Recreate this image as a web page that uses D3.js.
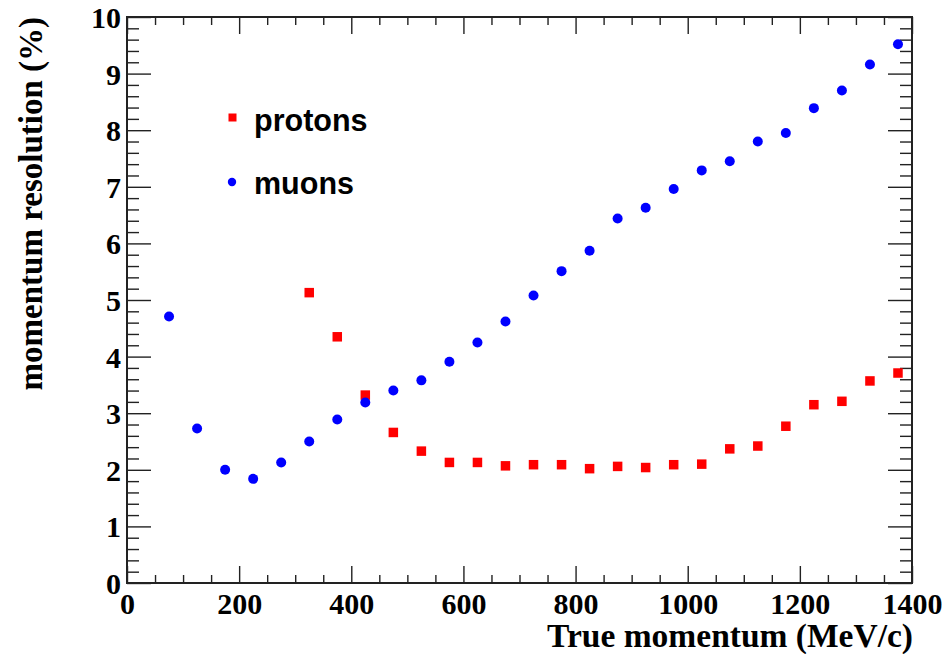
<!DOCTYPE html>
<html>
<head>
<meta charset="utf-8">
<script src="https://cdn.jsdelivr.net/npm/d3@7/dist/d3.min.js"></script>
<style>
  html, body { margin: 0; padding: 0; background: #fff; }
  svg { display: block; }
</style>
</head>
<body>
<svg id="chart" width="947" height="654"></svg>
<script>
// Momentum resolution vs true momentum, binned every 50 MeV/c
const muonMomentum = [75,125,175,225,275,325,375,425,475,525,575,625,675,725,775,825,875,925,975,1025,1075,1125,1175,1225,1275,1325,1375];
const muonResolution = [4.71,2.73,2.00,1.84,2.13,2.50,2.89,3.19,3.40,3.58,3.91,4.25,4.62,5.08,5.51,5.87,6.44,6.63,6.96,7.29,7.45,7.80,7.95,8.39,8.70,9.16,9.52];

const protonMomentum = [325,375,425,475,525,575,625,675,725,775,825,875,925,975,1025,1075,1125,1175,1225,1275,1325,1375];
const protonResolution = [5.13,4.35,3.32,2.66,2.33,2.13,2.13,2.07,2.09,2.09,2.02,2.06,2.04,2.09,2.10,2.37,2.42,2.77,3.15,3.21,3.57,3.71];

const xTicks = [0,200,400,600,800,1000,1200,1400];
const yTicks = [0,1,2,3,4,5,6,7,8,9,10];
const xTitle = "True momentum (MeV/c)";
const yTitle = "momentum resolution (%)";
const legendLabels = ["protons", "muons"];

const svg = d3.select("#chart");
const plotLeft = 127, plotRight = 912, plotTop = 17, plotBottom = 583;

const x = d3.scaleLinear().domain([0, 1400]).range([plotLeft, plotRight]);
const y = d3.scaleLinear().domain([0, 10]).range([plotBottom, plotTop]);

const axisColor = "#222";
const serif = "'Liberation Serif', 'Times New Roman', serif";
const sans = "'Liberation Sans', Arial, Helvetica, sans-serif";

// minor tick positions
const xMinor = d3.range(0, 1400 + 1, 50).filter(v => v % 200 !== 0);
const yMinor = d3.range(0, 10.001, 0.2).map(v => +v.toFixed(1)).filter(v => Math.abs(v - Math.round(v)) > 1e-6);

function styleAxis(g) {
  g.select(".domain").remove();
  g.selectAll(".tick line").attr("stroke", axisColor).attr("stroke-width", 1.4);
}

// bottom axis (major + minor, ticks pointing inward)
svg.append("g").attr("transform", `translate(0,${plotBottom})`)
  .call(d3.axisBottom(x).tickValues(xTicks).tickSizeInner(-17).tickSizeOuter(0).tickFormat(d3.format("d")))
  .call(styleAxis)
  .call(g => g.selectAll(".tick text")
    .attr("y", 31).attr("dy", 0)
    .attr("fill", "#000").style("font-family", serif).style("font-weight", "bold").style("font-size", "30px"));
svg.append("g").attr("transform", `translate(0,${plotBottom})`)
  .call(d3.axisBottom(x).tickValues(xMinor).tickSizeInner(-8).tickSizeOuter(0).tickFormat(""))
  .call(styleAxis);

// top axis mirror
svg.append("g").attr("transform", `translate(0,${plotTop})`)
  .call(d3.axisTop(x).tickValues(xTicks).tickSizeInner(-17).tickSizeOuter(0).tickFormat(""))
  .call(styleAxis);
svg.append("g").attr("transform", `translate(0,${plotTop})`)
  .call(d3.axisTop(x).tickValues(xMinor).tickSizeInner(-8).tickSizeOuter(0).tickFormat(""))
  .call(styleAxis);

// left axis
svg.append("g").attr("transform", `translate(${plotLeft},0)`)
  .call(d3.axisLeft(y).tickValues(yTicks).tickSizeInner(-24).tickSizeOuter(0).tickFormat(d3.format("d")))
  .call(styleAxis)
  .call(g => g.selectAll(".tick text")
    .attr("x", -6).attr("dy", "0.35em")
    .attr("fill", "#000").style("font-family", serif).style("font-weight", "bold").style("font-size", "30px"));
svg.append("g").attr("transform", `translate(${plotLeft},0)`)
  .call(d3.axisLeft(y).tickValues(yMinor).tickSizeInner(-12).tickSizeOuter(0).tickFormat(""))
  .call(styleAxis);

// right axis mirror
svg.append("g").attr("transform", `translate(${plotRight},0)`)
  .call(d3.axisRight(y).tickValues(yTicks).tickSizeInner(-24).tickSizeOuter(0).tickFormat(""))
  .call(styleAxis);
svg.append("g").attr("transform", `translate(${plotRight},0)`)
  .call(d3.axisRight(y).tickValues(yMinor).tickSizeInner(-12).tickSizeOuter(0).tickFormat(""))
  .call(styleAxis);

// frame
svg.append("rect")
  .attr("x", plotLeft).attr("y", plotTop)
  .attr("width", plotRight - plotLeft).attr("height", plotBottom - plotTop)
  .attr("fill", "none").attr("stroke", axisColor).attr("stroke-width", 2);

// axis titles
svg.append("text")
  .attr("x", plotRight + 1).attr("y", 647)
  .attr("text-anchor", "end")
  .style("font-family", serif).style("font-weight", "bold").style("font-size", "33.5px")
  .text(xTitle);

svg.append("text")
  .attr("transform", `translate(42,${plotTop}) rotate(-90)`)
  .attr("text-anchor", "end")
  .style("font-family", serif).style("font-weight", "bold").style("font-size", "33px")
  .text(yTitle);

// data markers
const protons = protonMomentum.map((m, i) => ({ m, r: protonResolution[i] }));
const muons = muonMomentum.map((m, i) => ({ m, r: muonResolution[i] }));

const sq = 9.5;
svg.append("g").selectAll("rect").data(protons).join("rect")
  .attr("x", d => x(d.m) - sq / 2).attr("y", d => y(d.r) - sq / 2)
  .attr("width", sq).attr("height", sq)
  .attr("fill", "#ff0000");

svg.append("g").selectAll("circle").data(muons).join("circle")
  .attr("cx", d => x(d.m)).attr("cy", d => y(d.r)).attr("r", 5)
  .attr("fill", "#0000ff");

// legend
const legend = svg.append("g");
legend.append("rect").attr("x", 228.5).attr("y", 113.5).attr("width", 8).attr("height", 8).attr("fill", "#ff0000");
legend.append("circle").attr("cx", 232).attr("cy", 182).attr("r", 4.2).attr("fill", "#0000ff");
legend.selectAll("text").data(legendLabels).join("text")
  .attr("x", 254).attr("y", (d, i) => i === 0 ? 131 : 194)
  .style("font-family", sans).style("font-weight", "bold").style("font-size", "30.5px")
  .text(d => d);
</script>
</body>
</html>
